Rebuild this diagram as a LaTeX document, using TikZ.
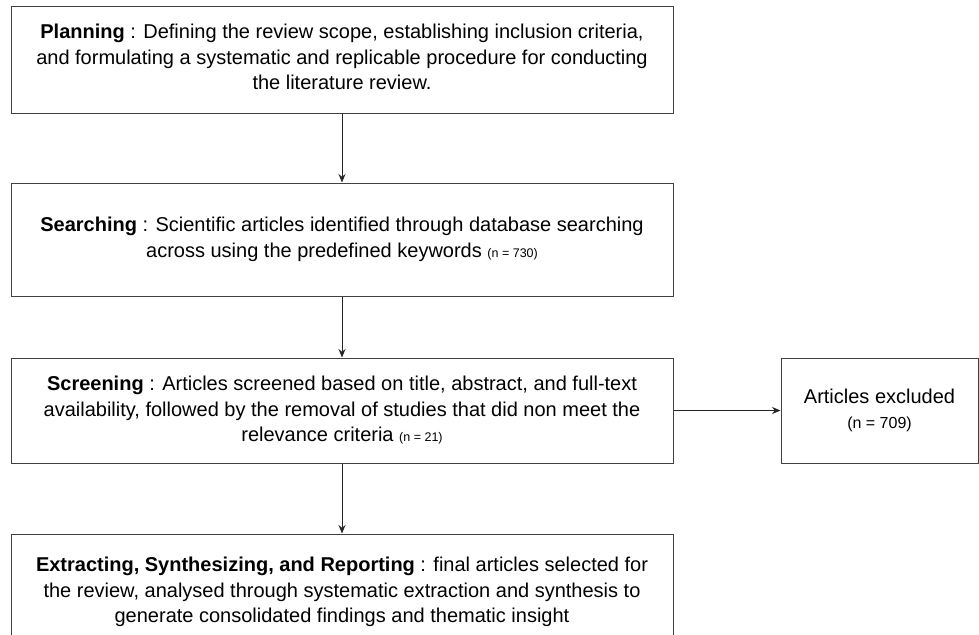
\documentclass[tikz,border=0pt]{standalone}
\usepackage{fontspec}
\setmainfont{Liberation Sans}
\usetikzlibrary{arrows.meta}
\begin{document}
\begin{tikzpicture}[x=1pt,y=-1pt,
  box/.style={draw=black!75, line width=1pt, align=center, inner sep=0pt,
    font=\fontsize{20}{25.5}\selectfont, text=black},
  conn/.style={draw=black!85, line width=0.9pt, -{Stealth[length=8.5pt,width=7pt]}}]
\useasboundingbox (0,0) rectangle (979,634);
\clip (0,0) rectangle (979,634);
\fill[white] (0,0) rectangle (979,634);
\node[box, minimum width=662pt, minimum height=106pt] (plan) at (342,60)
  {\textbf{Planning} : Defining the review scope, establishing inclusion criteria,\\
   and formulating a systematic and replicable procedure for conducting\\
   the literature review.\\[-19.5pt]};
\node[box, minimum width=662pt, minimum height=113pt] (search) at (342,239.5)
  {\textbf{Searching} : Scientific articles identified through database searching\\
   across using the predefined keywords {\fontsize{12.5}{14}\selectfont (n = 730)}};
\node[box, minimum width=662pt, minimum height=105pt] (screen) at (342,410.5)
  {\textbf{Screening} : Articles screened based on title, abstract, and full-text\\
   availability, followed by the removal of studies that did non meet the\\
   relevance criteria {\fontsize{12.5}{14}\selectfont (n = 21)}};
\node[box, minimum width=662pt, minimum height=116pt] (extract) at (342,592)
  {\textbf{Extracting, Synthesizing, and Reporting} : final articles selected for\\
   the review, analysed through systematic extraction and synthesis to\\
   generate consolidated findings and thematic insight};
\node[box, minimum width=197pt, minimum height=105pt] (excl) at (879.5,410.5)
  {\raisebox{2pt}{Articles excluded}\\[-2pt]{\fontsize{16}{18}\selectfont (n = 709)}};
\draw[conn] (plan) -- (search);
\draw[conn] (search) -- (screen);
\draw[conn] (screen) -- (extract);
\draw[conn] (screen) -- (excl);
\end{tikzpicture}
\end{document}
